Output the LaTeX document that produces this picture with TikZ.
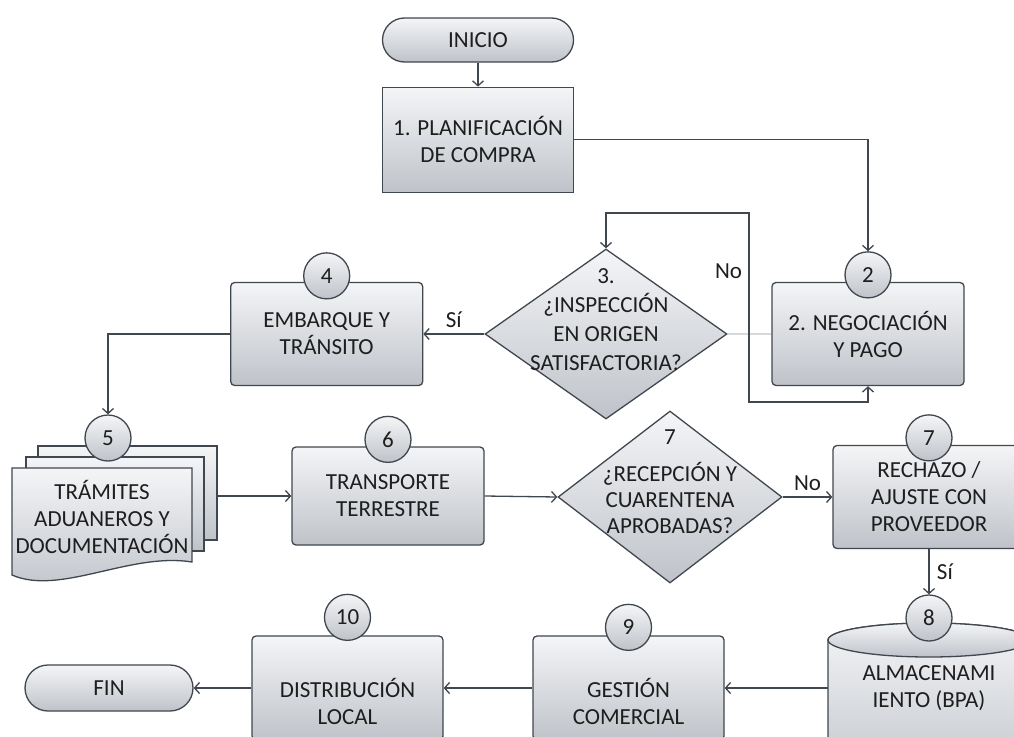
\documentclass[tikz,border=0pt]{standalone}
\usepackage{fontspec}
\setmainfont{Carlito}
\usetikzlibrary{shapes.geometric,arrows.meta,positioning}
\definecolor{edgegray}{HTML}{40474F}
\definecolor{filltop}{HTML}{F4F5F7}
\definecolor{fillbot}{HTML}{BFC3C9}
\definecolor{txtcol}{HTML}{1E1E1E}
\definecolor{faintgray}{HTML}{D5D9DC}
\tikzset{proc/.style={rectangle,rounded corners=4pt,draw=edgegray,top color=filltop,bottom color=fillbot,line width=1.3pt,minimum width=192pt,minimum height=103pt,align=center}}
\tikzset{plainproc/.style={proc,sharp corners}}
\tikzset{term/.style={proc,rounded corners=22pt,minimum height=44pt}}
\tikzset{decision/.style={diamond,draw=edgegray,top color=filltop,bottom color=fillbot,line width=1.3pt,inner sep=0pt}}
\tikzset{num/.style={circle,draw=edgegray,top color=filltop,bottom color=fillbot,line width=1.3pt,minimum size=46pt,inner sep=0pt}}
\tikzset{sheet/.style={rectangle,draw=edgegray,top color=filltop,bottom color=fillbot,line width=1.3pt}}
\tikzset{flow/.style={->,>={Straight Barb[length=5pt,width=11pt]},line width=1.3pt,draw=edgegray}}
\tikzset{faint/.style={line width=1.3pt,draw=faintgray}}
\tikzset{txtonly/.style={align=center}}

\begin{document}
\begin{tikzpicture}[x=1pt,y=-1pt,every node/.style={font=\fontsize{23}{27}\selectfont,text=txtcol}]
\useasboundingbox (0,0) rectangle (1014,736);

\node (inicio) [term,minimum width=191pt] at (478,40) {INICIO};
\node (plan) [plainproc,below=24pt of inicio,minimum width=191pt,minimum height=105pt] {1. PLANIFICACIÓN\\DE COMPRA};
\node (neg) [proc] at (868,334) {2. NEGOCIACIÓN\\Y PAGO};
\node (insp) [decision,minimum width=242pt,minimum height=170pt] at (606,334) {};
\node (insptxt) [txtonly,font=\fontsize{23}{29}\selectfont] at (606,320) {3.\\¿INSPECCIÓN\\EN ORIGEN\\SATISFACTORIA?};
\node (emb) [proc,left=61pt of insp] {EMBARQUE Y\\TRÁNSITO};

\node (docsB) [sheet,minimum width=179pt,minimum height=94pt] at (127.5,493) {};
\node (docsM) [sheet,minimum width=178pt,minimum height=94pt] at (115,504) {};
\draw[sheet] (12,468) -- (192,468) -- (192,562) .. controls (130,552) and (60,596) .. (12,575) -- cycle;
\node (docs) [txtonly] at (102,517) {TRÁMITES\\ADUANEROS Y\\DOCUMENTACIÓN};

\node (trans) [proc,minimum height=98pt] at (388,496) {TRANSPORTE\\TERRESTRE};
\node (recep) [decision,minimum width=224pt,minimum height=172pt] at (670,497) {};
\node (receptxt) [txtonly,font=\fontsize{23}{26}\selectfont] at (670,482) {7\\[11pt]¿RECEPCIÓN Y\\CUARENTENA\\APROBADAS?};
\node (rech) [proc] at (929,497) {RECHAZO /\\AJUSTE CON\\PROVEEDOR};

\draw[sheet] (828,640) -- (828,770) arc[start angle=180,end angle=360,x radius=101pt,y radius=17pt] -- (1030,640) arc[start angle=0,end angle=180,x radius=101pt,y radius=17pt] -- cycle;
\draw[sheet] (929,640) ellipse [x radius=101pt,y radius=17pt];
\node (alm) [txtonly,minimum width=202pt,minimum height=100pt] at (929,688) {ALMACENAMI\\IENTO (BPA)};

\node (gest) [proc,minimum width=191pt,minimum height=104pt] at (628.5,688) {};
\node (gesttxt) [txtonly] at (628.5,701) {GESTIÓN\\COMERCIAL};
\node (dist) [proc,minimum width=191pt,minimum height=104pt] at (347.5,688) {};
\node (disttxt) [txtonly] at (347.5,701) {DISTRIBUCIÓN\\LOCAL};
\node (fin) [term,minimum width=168pt,minimum height=46pt,rounded corners=23pt] at (109,688) {FIN};

\node (c2) [num] at ([yshift=7pt]neg.north) {2};
\node (c4) [num] at ([yshift=6pt]emb.north) {4};
\node (c5) [num] at (108,438) {5};
\node (c6) [num] at ([yshift=7pt]trans.north) {6};
\node (c7) [num] at ([yshift=7pt]rech.north) {7};
\node (c8) [num] at (929,618) {8};
\node (c9) [num] at ([yshift=8pt]gest.north) {9};
\node (c10) [num] at ([yshift=18pt]dist.north) {10};

\coordinate (loopA) at (749,213);
\coordinate (loopB) at (749,402);
\draw[flow] (inicio) -- (plan);
\draw[flow] (plan.east) -| (c2.north);
\draw[faint] (insp.east) -- (neg.west);
\draw[flow,<->] (insp.north) |- (loopA) -- node (no1) [pos=0.31,left=3pt] {No} (loopB) -| (neg.south);
\draw[flow] (insp.west) -- node (si1) [above=2pt] {Sí} (emb.east);
\draw[flow] (emb.west) -| (c5.north);
\draw[flow] (docsB.east |- trans.west) -- (trans.west);
\draw[flow] (trans.east) -- (recep.west);
\draw[flow] (recep.east) -- node (no2) [above=2pt] {No} (rech.west);
\draw[flow] (rech.south) -- node (si2) [right=4pt] {Sí} (c8.north);
\draw[flow] (alm.west) -- (gest.east);
\draw[flow] (gest.west) -- (dist.east);
\draw[flow] (dist.west) -- (fin.east);
\end{tikzpicture}
\end{document}
